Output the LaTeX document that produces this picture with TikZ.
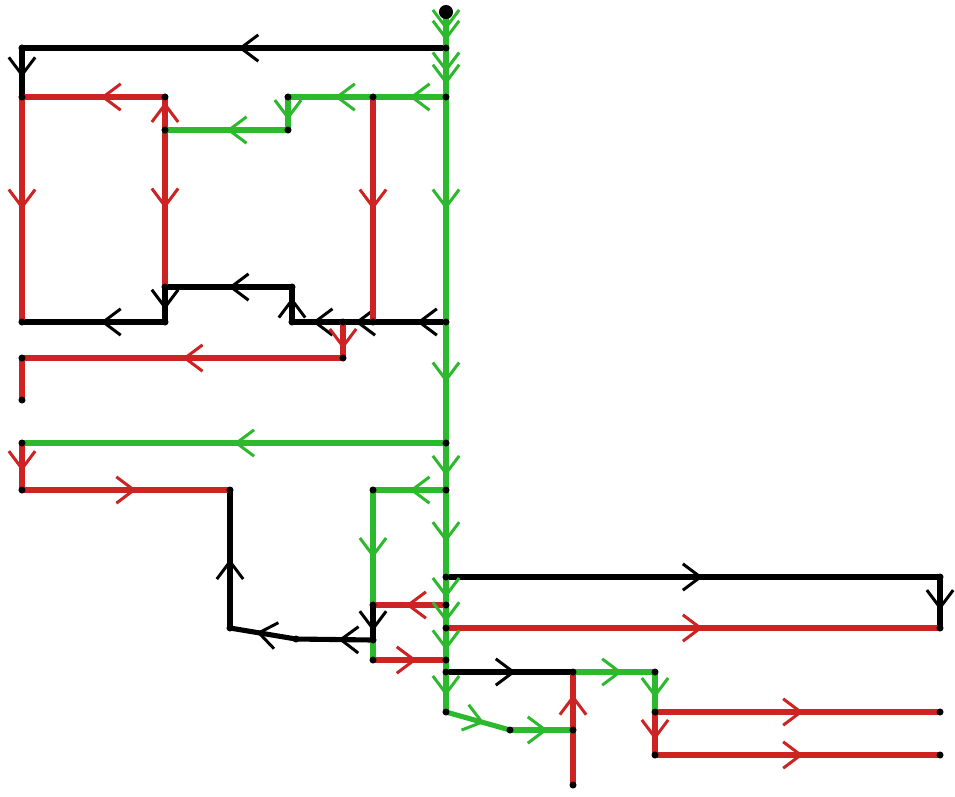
\documentclass[tikz,border=0pt]{standalone}
\usetikzlibrary{arrows.meta,decorations.markings}
\definecolor{gr}{RGB}{45,185,45}
\definecolor{rd}{RGB}{205,35,35}
\tikzset{
 ln/.style={line width=2.9pt},
 ar/.style={postaction={decorate,decoration={markings,mark=at position #1 with {\arrow{Straight Barb[length=10pt,width=15pt,line width=1.7pt]}}}}},
 dot/.style={circle,fill=black,inner sep=0pt,minimum size=4pt},
}
\begin{document}
\begin{tikzpicture}[x=0.02cm,y=-0.02cm]
\useasboundingbox[fill=white] (0,0) rectangle (955,796);
% coordinates
\coordinate (top) at (446,12);
\coordinate (a1) at (446,48); \coordinate (a2) at (22,48); \coordinate (a3) at (22,97);
\coordinate (b1) at (446,97); \coordinate (b2) at (373,97); \coordinate (b3) at (288,97);
\coordinate (b4) at (288,130); \coordinate (b5) at (165,130); \coordinate (b6) at (165,97);
\coordinate (c1) at (165,287); \coordinate (c2) at (292,287); \coordinate (c3) at (165,322); \coordinate (c4) at (22,322);
\coordinate (d1) at (446,322); \coordinate (d2) at (373,322); \coordinate (d3) at (343,322); \coordinate (d4) at (292,322);
\coordinate (e1) at (343,358); \coordinate (e2) at (22,358); \coordinate (e3) at (22,400);
\coordinate (f1) at (446,443); \coordinate (f2) at (22,443); \coordinate (f3) at (22,490); \coordinate (f4) at (230,490);
\coordinate (f5) at (230,628); \coordinate (f6) at (296,639);
\coordinate (g1) at (446,490); \coordinate (g2) at (373,490); \coordinate (g3) at (373,605); \coordinate (g4) at (373,640); \coordinate (g5) at (373,660);
\coordinate (h1) at (446,577); \coordinate (h2) at (940,577); \coordinate (h3) at (940,628); \coordinate (h4) at (446,628); \coordinate (h5) at (446,605);
\coordinate (i1) at (446,660); \coordinate (i2) at (446,672); \coordinate (i3) at (573,672); \coordinate (i4) at (655,672);
\coordinate (i5) at (655,712); \coordinate (i6) at (940,712); \coordinate (i7) at (655,755); \coordinate (i8) at (940,755);
\coordinate (j1) at (446,712); \coordinate (j2) at (510,730); \coordinate (j3) at (573,730); \coordinate (j4) at (573,785);
% black
\draw[ln,black,ar=0.49] (a1) -- (a2);
\draw[ln,black,ar=0.6] (a2) -- (a3);
\draw[ln,black,ar=0.45] (c3) -- (c4);
\draw[ln,black,ar=0.5] (c2) -- (c1);
\draw[ln,black,ar=0.65] (c1) -- (c3);
\draw[ln,black,ar=0.4] (d1) -- (d2);
\draw[ln,black,ar=0.6] (d2) -- (d3);
\draw[ln,black,ar=0.6] (d3) -- (d4);
\draw[ln,black,ar=0.7] (d4) -- (c2);
\draw[ln,black,ar=0.5] (f5) -- (f4);
\draw[ln,black,ar=0.45] (g4) -- (f6);
\draw[ln,black,ar=0.6] (f6) -- (f5);
\draw[ln,black,ar=0.52] (h1) -- (h2);
\draw[ln,black,ar=0.65] (h2) -- (h3);
\draw[ln,black,ar=0.55] (i2) -- (i3);
% red
\draw[ln,rd,ar=0.45] (b6) -- (a3);
\draw[ln,rd,ar=0.5] (a3) -- (c4);
\draw[ln,rd,ar=0.85] (b5) -- (b6);
\draw[ln,rd,ar=0.5] (b5) -- (c1);
\draw[ln,rd,ar=0.5] (b2) -- (d2);
\draw[ln,rd,ar=0.75] (d3) -- (e1);
\draw[ln,rd,ar=0.5] (e1) -- (e2);
\draw[ln,rd] (e2) -- (e3);
\draw[ln,rd,ar=0.6] (f2) -- (f3);
\draw[ln,rd,ar=0.55] (f3) -- (f4);
\draw[ln,rd,ar=0.55] (h5) -- (g3);
\draw[ln,rd,ar=0.6] (g5) -- (i1);
\draw[ln,rd,ar=0.52] (h4) -- (h3);
\draw[ln,rd,ar=0.52] (i5) -- (i6);
\draw[ln,rd,ar=0.65] (i5) -- (i7);
\draw[ln,rd,ar=0.52] (i7) -- (i8);
\draw[ln,rd,ar=0.8] (j4) -- (i3);
% green
\draw[ln,gr,ar=0.5] (b1) -- (b2);
\draw[ln,gr,ar=0.45] (b2) -- (b3);
\draw[ln,gr,ar=0.7] (b3) -- (b4);
\draw[ln,gr,ar=0.5] (b4) -- (b5);
\draw[ln,gr,ar=0.5] (f1) -- (f2);
\draw[ln,gr,ar=0.5] (g1) -- (g2);
\draw[ln,gr,ar=0.4] (g2) -- (g5);
\draw[ln,black,ar=0.75] (g3) -- (g4);
\draw[ln,gr,ar=0.6] (i3) -- (i4);
\draw[ln,gr,ar=0.65] (i4) -- (i5);
\draw[ln,gr,ar=0.6] (j1) -- (j2);
\draw[ln,gr,ar=0.6] (j2) -- (j3);
% green trunk
\draw[ln,gr,ar=0.5,ar=0.8] (top) -- (a1);
\draw[ln,gr,ar=0.5,ar=0.75] (a1) -- (b1);
\draw[ln,gr,ar=0.5] (b1) -- (d1);
\draw[ln,gr,ar=0.5] (d1) -- (f1);
\draw[ln,gr,ar=0.7] (f1) -- (g1);
\draw[ln,gr,ar=0.6] (g1) -- (h1);
\draw[ln,gr,ar=0.75] (h1) -- (h5);
\draw[ln,gr,ar=0.75] (h5) -- (h4);
\draw[ln,gr,ar=0.7] (h4) -- (i1);
\draw[ln,gr] (i1) -- (i2);
\draw[ln,gr,ar=0.6] (i2) -- (j1);
% dots
\node[circle,fill=black,inner sep=0pt,minimum size=8pt] (n0) at (top) {};
\foreach \p in {a1,a2,a3,b1,b2,b3,b4,b5,b6,c1,c2,c3,c4,d1,d2,d3,d4,e1,e2,e3,f1,f2,f3,f4,f5,f6,g1,g2,g3,g4,g5,h1,h2,h3,h4,h5,i1,i2,i3,i4,i5,i6,i7,i8,j1,j2,j3,j4}
  \node[dot] at (\p) {};
\end{tikzpicture}
\end{document}
